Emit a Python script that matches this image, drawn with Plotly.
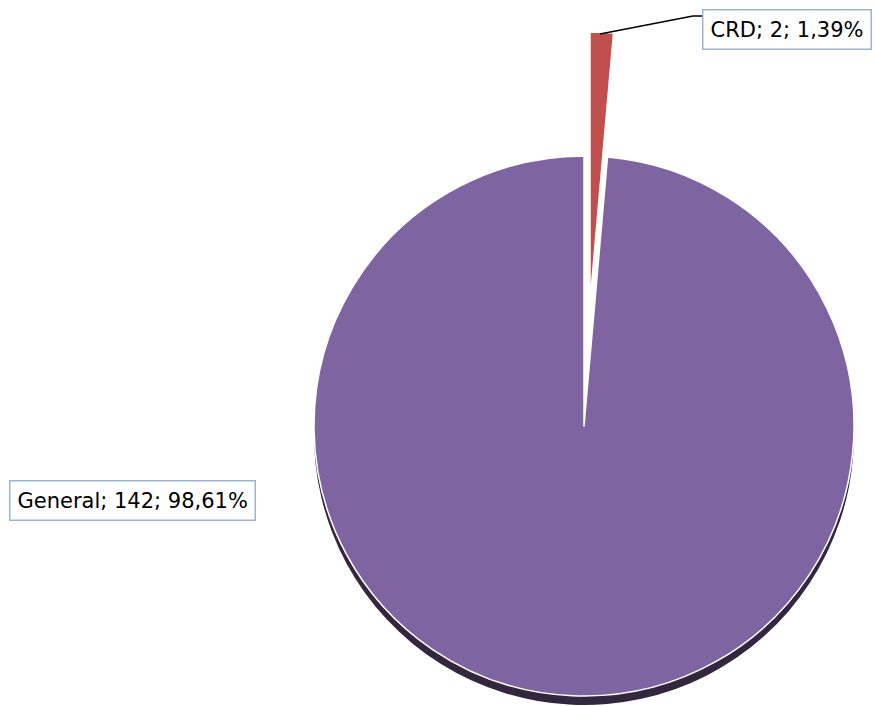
import plotly.graph_objects as go

# ---- data ----
labels = ["CRD", "General"]
values = [2, 142]
colors = ["#C0504D", "#7E64A0"]
shadow_color = "#33263F"

W, H = 875, 706
total = sum(values)
texts = [f"{l}; {v}; {v / total * 100:.2f}%".replace(".", ",") for l, v in zip(labels, values)]


def px(x, y):
    """pixel -> paper coords"""
    return x / W, (H - y) / H


def px_dom(cx, cy, r):
    x0, y0 = px(cx - r, cy + r)
    x1, y1 = px(cx + r, cy - r)
    return dict(x=[x0, x1], y=[y0, y1])


R = 270
common = dict(labels=labels, values=values, sort=False, direction="clockwise", rotation=0,
              textinfo="none", hoverinfo="none", showlegend=False)

fig = go.Figure()
# shadow (General only)
fig.add_trace(go.Pie(marker=dict(colors=["rgba(0,0,0,0)", shadow_color], line=dict(width=0)),
                     domain=px_dom(584, 435, R), **common))
# main pie (General)
fig.add_trace(go.Pie(marker=dict(colors=["rgba(0,0,0,0)", colors[1]],
                                 line=dict(color=["rgba(0,0,0,0)", "white"], width=1.5)),
                     domain=px_dom(584, 426, R), **common))
# exploded CRD slice
fig.add_trace(go.Pie(marker=dict(colors=[colors[0], "rgba(0,0,0,0)"],
                                 line=dict(color=["white", "rgba(0,0,0,0)"], width=1.5)),
                     domain=px_dom(590, 302, R), **common))

font = dict(family="'DejaVu Sans', sans-serif", size=21, color="#000000")
box = dict(bordercolor="#9DB3D3", borderwidth=1.5, borderpad=7, bgcolor="white",
           showarrow=False, xref="paper", yref="paper", font=font, yanchor="top")

gx, gy = px(9, 480)
fig.add_annotation(text=texts[1], x=gx, y=gy, xanchor="left", **box)
cx_, cy_ = px(872, 9)
fig.add_annotation(text=texts[0], x=cx_, y=cy_, xanchor="right", **box)

# leader line for CRD
p1, p2, p3 = px(600, 34), px(693, 16), px(705, 16)
fig.add_shape(type="path", xref="paper", yref="paper",
              path=f"M {p1[0]},{p1[1]} L {p2[0]},{p2[1]} L {p3[0]},{p3[1]}",
              line=dict(color="black", width=1.5))

fig.update_layout(width=W, height=H, margin=dict(l=0, r=0, t=0, b=0),
                  paper_bgcolor="white", plot_bgcolor="white", showlegend=False)

fig.write_html("out.html", config={"displayModeBar": False},
               post_script="document.body.style.margin='0';document.body.style.overflow='hidden';")
